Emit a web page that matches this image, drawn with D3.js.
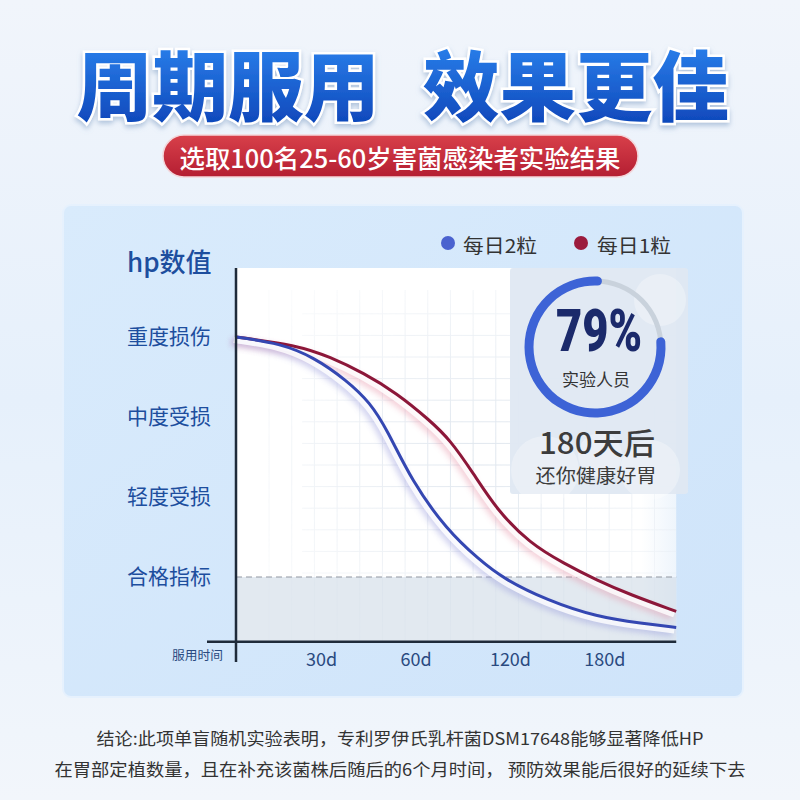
<!DOCTYPE html>
<html><head><meta charset="utf-8">
<script src="https://cdn.jsdelivr.net/npm/d3@7/dist/d3.min.js"></script>
<style>
html,body{margin:0;padding:0;background:#eef4fb;}
svg{display:block;font-family:"Noto Sans CJK SC","Noto Sans",sans-serif;}
</style></head>
<body>
<svg id="c" width="800" height="800"></svg>
<script>
// ---------- data ----------
const title1 = "周期服用";
const title2 = "效果更佳";
const subtitle = "选取100名25-60岁害菌感染者实验结果";
const yAxisTitle = "hp数值";
const yLevels = [4, 3, 2, 1];
const yLabels = ["重度损伤", "中度受损", "轻度受损", "合格指标"];
const xTickPos = [1, 2, 3, 4];
const xTickLabels = ["30d", "60d", "120d", "180d"];
const xAxisTitle = "服用时间";
const seriesNames = ["每日2粒", "每日1粒"];
// series 1: 每日2粒 (blue)
const blueX = [0.10, 0.57, 0.92, 1.27, 1.52, 1.70, 1.96, 2.33, 2.68, 2.93, 3.39, 3.92, 4.40, 4.76];
const blueY = [4.00, 3.92, 3.75, 3.46, 3.18, 2.84, 2.20, 1.59, 1.21, 0.98, 0.71, 0.50, 0.42, 0.37];
// series 2: 每日1粒 (red)
const redX = [0.10, 0.74, 1.10, 1.45, 1.80, 2.15, 2.37, 2.61, 2.86, 3.21, 3.57, 3.92, 4.27, 4.76];
const redY = [4.00, 3.90, 3.75, 3.55, 3.30, 2.96, 2.71, 2.30, 1.84, 1.42, 1.17, 0.96, 0.78, 0.57];
const passLevel = 1;
const baseLevel = 0.19;
const ringPercent = 79;
const ringLabel = "实验人员";
const insetLine1 = "180天后";
const insetLine2 = "还你健康好胃";
const note1 = "结论:此项单盲随机实验表明，专利罗伊氏乳杆菌DSM17648能够显著降低HP";
const note2 = "在胃部定植数量，且在补充该菌株后随后的6个月时间， 预防效果能后很好的延续下去";

// ---------- setup ----------
const svg = d3.select("#c");
const defs = svg.append("defs");

const bg = defs.append("linearGradient").attr("id","bg").attr("x1",0).attr("y1",0).attr("x2",0).attr("y2",1);
bg.append("stop").attr("offset","0%").attr("stop-color","#f1f5fb");
bg.append("stop").attr("offset","50%").attr("stop-color","#e6f0fb");
bg.append("stop").attr("offset","100%").attr("stop-color","#f2f6fb");

const tg = defs.append("linearGradient").attr("id","tg").attr("x1",0).attr("y1",0).attr("x2",0).attr("y2",1);
tg.append("stop").attr("offset","0%").attr("stop-color","#2f8bf5");
tg.append("stop").attr("offset","100%").attr("stop-color","#0b3fb3");

const pg = defs.append("linearGradient").attr("id","pg").attr("x1",0).attr("y1",0).attr("x2",0).attr("y2",1);
pg.append("stop").attr("offset","0%").attr("stop-color","#d8404a");
pg.append("stop").attr("offset","100%").attr("stop-color","#b41e32");

const panelG = defs.append("linearGradient").attr("id","panelG").attr("x1",0).attr("y1",0).attr("x2",1).attr("y2",1);
panelG.append("stop").attr("offset","0%").attr("stop-color","#d9ebfc");
panelG.append("stop").attr("offset","100%").attr("stop-color","#cfe4fa");

const plotG = defs.append("linearGradient").attr("id","plotG").attr("x1",0).attr("y1",0).attr("x2",1).attr("y2",0);
plotG.append("stop").attr("offset","0%").attr("stop-color","#ffffff");
plotG.append("stop").attr("offset","92%").attr("stop-color","#ffffff");
plotG.append("stop").attr("offset","100%").attr("stop-color","#eef5fc");

const sh = defs.append("filter").attr("id","tshadow").attr("x","-10%").attr("y","-20%").attr("width","120%").attr("height","150%");
sh.append("feDropShadow").attr("dx",0).attr("dy",3).attr("stdDeviation",2.5).attr("flood-color","#7e9cc4").attr("flood-opacity",0.55);

const blur = defs.append("filter").attr("id","blur").attr("x","-20%").attr("y","-20%").attr("width","140%").attr("height","140%");
blur.append("feGaussianBlur").attr("stdDeviation",3);

const gridMaskG = defs.append("radialGradient").attr("id","gmg").attr("cx","0.55").attr("cy","0.5").attr("r","0.6");
gridMaskG.append("stop").attr("offset","0%").attr("stop-color","#fff").attr("stop-opacity",1);
gridMaskG.append("stop").attr("offset","100%").attr("stop-color","#fff").attr("stop-opacity",0.15);
defs.append("mask").attr("id","gmask").append("rect")
  .attr("x",236).attr("y",268).attr("width",444).attr("height",374).attr("fill","url(#gmg)");

svg.append("rect").attr("width",800).attr("height",800).attr("fill","url(#bg)");

// ---------- title ----------
const tStyle = s => s.attr("font-size",76).attr("font-weight",900).attr("fill","url(#tg)")
  .attr("stroke","#ffffff").attr("stroke-width",5).attr("paint-order","stroke")
  .attr("text-anchor","middle").attr("dominant-baseline","central").attr("filter","url(#tshadow)")
  .attr("lengthAdjust","spacingAndGlyphs");
svg.append("text").attr("x",228).attr("y",82).attr("textLength",303).text(title1).call(tStyle);
svg.append("text").attr("x",576).attr("y",82).attr("textLength",306).text(title2).call(tStyle);

// pill
svg.append("rect").attr("x",163).attr("y",135).attr("width",475).attr("height",42).attr("rx",21)
  .attr("fill","url(#pg)").attr("stroke","#f3d6da").attr("stroke-width",1.5);
svg.append("text").attr("x",400).attr("y",157).attr("text-anchor","middle").attr("dominant-baseline","central")
  .attr("font-size",25).attr("font-weight",500).attr("fill","#fff")
  .attr("textLength",441).attr("lengthAdjust","spacingAndGlyphs").text(subtitle);

// ---------- panel ----------
svg.append("rect").attr("x",63).attr("y",205).attr("width",680).attr("height",492).attr("rx",8)
  .attr("fill","url(#panelG)").attr("stroke","#e6f1fd").attr("stroke-width",2);

// scales
const x = d3.scaleLinear().domain([0.1, 4.8]).range([236, 680]);
const y = d3.scaleLinear().domain([0, 4]).range([657, 337]);
const x0 = x(0.1), xEnd = x(4.76), yBase = y(baseLevel);

// plot background
svg.append("rect").attr("x",x0).attr("y",268).attr("width",xEnd - x0).attr("height",yBase - 268).attr("fill","url(#plotG)");

// grid
const grid = svg.append("g").attr("mask","url(#gmask)").attr("stroke","#dfe6ee").attr("stroke-width",1);
d3.range(0.45, 4.76, 0.24).forEach(v => grid.append("line").attr("x1",x(v)).attr("x2",x(v)).attr("y1",290).attr("y2",yBase));
d3.range(1.05, 4.3, 0.27).forEach(v => grid.append("line").attr("x1",x(0.8)).attr("x2",xEnd).attr("y1",y(v)).attr("y2",y(v)));

// shaded pass band
svg.append("rect").attr("x",x0).attr("y",y(passLevel)).attr("width",xEnd - x0).attr("height",yBase - y(passLevel))
  .attr("fill","#cfdbe6").attr("opacity",0.6);
svg.append("line").attr("x1",x0).attr("x2",xEnd).attr("y1",y(passLevel)).attr("y2",y(passLevel))
  .attr("stroke","#9198a2").attr("stroke-width",1.2).attr("stroke-dasharray","6,4");

// ---------- inset ----------
const inset = svg.append("g");
inset.append("rect").attr("x",510).attr("y",268).attr("width",178).attr("height",226).attr("rx",3)
  .attr("fill","#dfe8f2").attr("opacity",0.95);
[[545,470,34],[650,470,30],[600,455,22],[660,300,26]].forEach(c =>
  inset.append("circle").attr("cx",c[0]).attr("cy",c[1]).attr("r",c[2]).attr("fill","#ffffff").attr("opacity",0.3));
const cx = 595, cy = 347, rr = 66;
const arc = d3.arc().innerRadius(rr - 4.5).outerRadius(rr + 4.5).cornerRadius(4.5);
inset.append("path").attr("transform",`translate(${cx},${cy})`)
  .attr("d", d3.arc().innerRadius(rr - 2.5).outerRadius(rr + 2.5)({startAngle:0, endAngle:2*Math.PI}))
  .attr("fill","#c9d2dc");
const gapStart = 6 * Math.PI/180;
inset.append("path").attr("transform",`translate(${cx},${cy})`)
  .attr("d", arc({startAngle: gapStart + (1 - ringPercent/100)*2*Math.PI, endAngle: 2*Math.PI + gapStart}))
  .attr("fill","#3d63d6");
inset.append("text").attr("x",599).attr("y",351).attr("text-anchor","middle")
  .attr("font-family","Roboto, 'DejaVu Sans', sans-serif").attr("font-weight",900).attr("font-size",60)
  .attr("fill","#1b2a6b").attr("textLength",86).attr("lengthAdjust","spacingAndGlyphs").text(ringPercent + "%");
inset.append("text").attr("x",596).attr("y",386).attr("text-anchor","middle").attr("font-size",17)
  .attr("fill","#333").text(ringLabel);
inset.append("text").attr("x",597).attr("y",454).attr("text-anchor","middle").attr("font-size",30)
  .attr("font-weight",500).attr("fill","#3c3c3c").attr("textLength",116).attr("lengthAdjust","spacingAndGlyphs").text(insetLine1);
inset.append("text").attr("x",596).attr("y",483).attr("text-anchor","middle").attr("font-size",19)
  .attr("fill","#3c3c3c").attr("textLength",121).attr("lengthAdjust","spacingAndGlyphs").text(insetLine2);

// ---------- curves ----------
const line = d3.line().x(d => x(d[0])).y(d => y(d[1])).curve(d3.curveBasis);
const blueData = blueX.map((v,i) => [v, blueY[i]]);
const redData = redX.map((v,i) => [v, redY[i]]);
const curves = svg.append("g");
[[redData,"#e58aa0"],[blueData,"#8c8fd8"]].forEach(([data,glow]) => {
  curves.append("path").attr("d",line(data)).attr("fill","none").attr("stroke",glow).attr("stroke-width",7)
    .attr("opacity",0.45).attr("filter","url(#blur)").attr("transform","translate(-4,5)");
  curves.append("path").attr("d",line(data)).attr("fill","none").attr("stroke","#ffffff").attr("stroke-width",6)
    .attr("opacity",0.8).attr("transform","translate(-2,3)");
});
curves.append("path").attr("d",line(redData)).attr("fill","none").attr("stroke","#8c1739").attr("stroke-width",3);
curves.append("path").attr("d",line(blueData)).attr("fill","none").attr("stroke","#3447b2").attr("stroke-width",3);

// ---------- axes ----------
const xAxis = svg.append("g").attr("transform",`translate(0,${yBase})`)
  .call(d3.axisBottom(x).tickValues(xTickPos).tickFormat((d,i) => xTickLabels[i]).tickSize(0).tickPadding(11));
xAxis.select(".domain").remove();
xAxis.selectAll("text").attr("font-size",18).attr("fill","#2a4a80")
  .attr("font-family","'Noto Sans CJK SC','Noto Sans',sans-serif");

const yAxis = svg.append("g").attr("transform",`translate(${x0},0)`)
  .call(d3.axisLeft(y).tickValues(yLevels).tickFormat((d,i) => yLabels[i]).tickSize(0));
yAxis.select(".domain").remove();
yAxis.selectAll("text").attr("x", 127 - x0).attr("text-anchor","start").attr("font-size",21)
  .attr("fill","#1d4e9e").attr("font-family","'Noto Sans CJK SC',sans-serif");

svg.append("line").attr("x1",x0).attr("x2",x0).attr("y1",268).attr("y2",662).attr("stroke","#1f2b3a").attr("stroke-width",2.5);
svg.append("line").attr("x1",207).attr("x2",xEnd).attr("y1",yBase).attr("y2",yBase).attr("stroke","#1f2b3a").attr("stroke-width",2.5);

svg.append("text").attr("x",127).attr("y",260).attr("dominant-baseline","central").attr("font-size",26)
  .attr("font-weight",500).attr("fill","#1d4e9e").text(yAxisTitle);
svg.append("text").attr("x",172).attr("y",660).attr("font-size",12.5).attr("fill","#2a4a80")
  .attr("textLength",51).attr("lengthAdjust","spacingAndGlyphs").text(xAxisTitle);

// legend
const legend = svg.append("g");
[[448,"#4a62cf",463,seriesNames[0]],[581,"#9b1b3d",597,seriesNames[1]]].forEach(([cxp,col,tx,label]) => {
  legend.append("circle").attr("cx",cxp).attr("cy",243).attr("r",7).attr("fill",col);
  legend.append("text").attr("x",tx).attr("y",244).attr("dominant-baseline","central").attr("font-size",19)
    .attr("fill","#333").attr("textLength",74).attr("lengthAdjust","spacingAndGlyphs").text(label);
});

// ---------- notes ----------
svg.append("text").attr("x",400).attr("y",745).attr("text-anchor","middle").attr("font-size",17).attr("fill","#333")
  .attr("textLength",607).attr("lengthAdjust","spacingAndGlyphs").text(note1);
svg.append("text").attr("x",400).attr("y",776).attr("text-anchor","middle").attr("font-size",17).attr("fill","#333")
  .attr("textLength",691).attr("lengthAdjust","spacingAndGlyphs").text(note2);
</script>
</body></html>
